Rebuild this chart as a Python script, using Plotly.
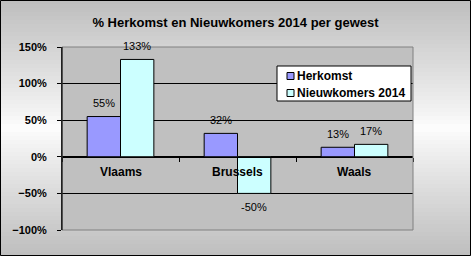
import plotly.graph_objects as go

categories = ["Vlaams", "Brussels", "Waals"]
herkomst = [0.55, 0.32, 0.13]
nieuwkomers = [1.33, -0.50, 0.17]
series_names = ["Herkomst", "Nieuwkomers 2014"]
series_colors = ["#9999FF", "#CCFFFF"]
title_text = "% Herkomst en Nieuwkomers 2014 per gewest"
y_ticks = [-1.0, -0.5, 0.0, 0.5, 1.0, 1.5]

FONT = "Arial, Liberation Sans, sans-serif"
W, H = 471, 256
ML, MR, MT, MB = 62, 58, 47, 26
PW, PH = W - ML - MR, H - MT - MB

def px2x(px):
    return (px - ML) / PW

def py2y(py):
    return (H - MB - py) / PH

fig = go.Figure()
for name, vals, col in zip(series_names, [herkomst, nieuwkomers], series_colors):
    fig.add_trace(go.Bar(
        x=categories, y=vals, name=name, showlegend=False,
        marker=dict(color=col, line=dict(color="black", width=1)),
    ))

shapes = []
# background vertical gradient (style only)
n = 64
for i in range(n):
    p0 = H * i / n
    p1 = H * (i + 1) / n
    mid = (i + 0.5) / n
    d = abs(mid - 0.5) * 2
    g = int(round(253 - (253 - 190) * d ** 0.9))
    shapes.append(dict(type="rect", xref="paper", yref="paper",
                       x0=px2x(-2), x1=px2x(W + 2), y0=py2y(p1 + 0.5), y1=py2y(p0),
                       fillcolor=f"rgb({g},{g},{g})", line=dict(width=0),
                       layer="below"))
# plot area background
shapes.append(dict(type="rect", xref="paper", yref="paper", x0=0, x1=1, y0=0, y1=1,
                   fillcolor="#C0C0C0", line=dict(width=0), layer="below"))
# outer black border
shapes.append(dict(type="rect", xref="paper", yref="paper",
                   x0=px2x(0.5), x1=px2x(W - 0.5), y0=py2y(H - 0.5), y1=py2y(0.5),
                   line=dict(color="black", width=1), layer="above"))
# plot area border (gray) and left axis line (black)
shapes.append(dict(type="rect", xref="paper", yref="paper",
                   x0=0, x1=1, y0=0, y1=1, line=dict(color="#808080", width=1),
                   layer="above"))
shapes.append(dict(type="line", xref="paper", yref="paper",
                   x0=0, x1=0, y0=0, y1=1, line=dict(color="black", width=1),
                   layer="above"))

# custom legend
lg_left, lg_right, lg_top, lg_bot = 277, 411, 66, 101
shapes.append(dict(type="rect", xref="paper", yref="paper",
                   x0=px2x(lg_left), x1=px2x(lg_right), y0=py2y(lg_bot), y1=py2y(lg_top),
                   fillcolor="white", line=dict(color="black", width=1), layer="above"))
annotations = []
row_y = [76, 93]
for name, col, ry in zip(series_names, series_colors, row_y):
    shapes.append(dict(type="rect", xref="paper", yref="paper",
                       x0=px2x(287), x1=px2x(294), y0=py2y(ry + 3.5), y1=py2y(ry - 3.5),
                       fillcolor=col, line=dict(color="black", width=1), layer="above"))
    annotations.append(dict(x=px2x(295), y=py2y(ry), xref="paper", yref="paper",
                            xanchor="left", yanchor="middle", showarrow=False,
                            text=f"<b>{name}</b>",
                            font=dict(family=FONT, size=12, color="black")))

# category labels inside the plot, under the zero line
for c in categories:
    annotations.append(dict(x=c, y=0, xref="x", yref="y", text=f"<b>{c}</b>",
                            showarrow=False, yshift=-15,
                            font=dict(family=FONT, size=12, color="black")))

# data labels
bar_half = 16.7
for vals, sgn in [(herkomst, -1), (nieuwkomers, 1)]:
    for c, v in zip(categories, vals):
        annotations.append(dict(x=c, y=v, xref="x", yref="y", text=f"{v:.0%}",
                                showarrow=False, xshift=sgn * bar_half,
                                yshift=13.5 if v >= 0 else -13.5,
                                yanchor="middle",
                                font=dict(family=FONT, size=11, color="black")))

fig.update_layout(
    width=W, height=H,
    margin=dict(l=ML, r=MR, t=MT, b=MB),
    paper_bgcolor="#E0E0E0",
    plot_bgcolor="rgba(0,0,0,0)",
    title=dict(text=f"<b>{title_text}</b>", x=0.5, xref="container",
               y=1 - 22 / H, yref="container", yanchor="middle",
               font=dict(family=FONT, size=13, color="black")),
    barmode="group", bargap=0.43, bargroupgap=0,
    showlegend=False,
    xaxis=dict(anchor="free", position=0.4, showline=True, linecolor="black",
               linewidth=1, ticks="outside", tickson="boundaries", ticklen=4,
               tickcolor="black", showticklabels=False, showgrid=False,
               zeroline=False, fixedrange=True),
    yaxis=dict(range=[-1.0, 1.5], tickvals=y_ticks, tickformat=".0%",
               showgrid=True, gridcolor="black", gridwidth=1,
               zeroline=True, zerolinecolor="black", zerolinewidth=1,
               showline=True, linecolor="black", ticks="outside", ticklen=4,
               tickcolor="black", ticklabelstandoff=8,
               tickfont=dict(family=FONT, size=11, color="black", weight="bold"),
               fixedrange=True),
    shapes=shapes,
    annotations=annotations,
)

fig.write_html("out.html")
